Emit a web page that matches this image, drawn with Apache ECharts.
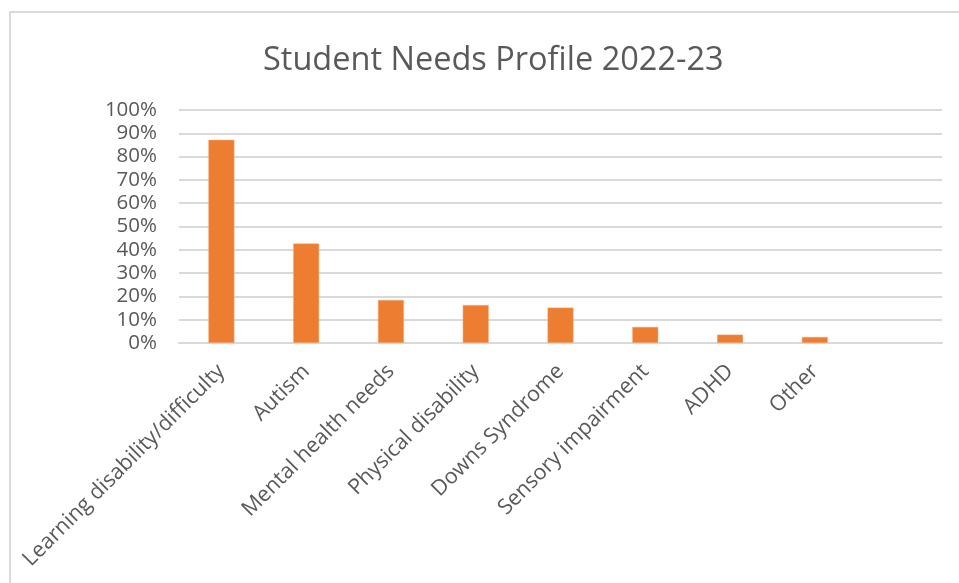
<!DOCTYPE html>
<html>
<head>
<meta charset="utf-8">
<script src="https://cdn.jsdelivr.net/npm/echarts@6/dist/echarts.min.js"></script>
<style>
html,body{margin:0;padding:0;background:#fff;}
#c{width:959px;height:583px;}
</style>
</head>
<body>
<div id="c"></div>
<script>
const categories = ['Learning disability/difficulty','Autism','Mental health needs','Physical disability','Downs Syndrome','Sensory impairment','ADHD','Other',''];
const values = [87.2, 42.7, 18.5, 16.3, 15.2, 6.9, 3.6, 2.6, null];
const yTicks = [0,10,20,30,40,50,60,70,80,90,100];

const chart = echarts.init(document.getElementById('c'), null, {renderer:'canvas'});
const font = '"Open Sans", "Noto Sans", sans-serif';
chart.setOption({
  animation:false,
  backgroundColor:'#fff',
  graphic:[{type:'rect', shape:{x:10,y:12,width:1000,height:700}, style:{fill:'none', stroke:'#d9d9d9', lineWidth:2}, silent:true}],
  title:{text:'Student Needs Profile 2022-23', left:258, top:39,
    textStyle:{fontFamily:font, fontSize:32.5, fontWeight:'normal', color:'#595959'}},
  grid:{left:179, right:17, top:110, bottom:240, containLabel:false},
  xAxis:{type:'category', data:categories,
    axisLine:{lineStyle:{color:'#d9d9d9', width:2}},
    axisTick:{show:false},
    axisLabel:{rotate:45, interval:0, fontFamily:font, fontSize:21.5, color:'#595959', margin:25}},
  yAxis:{type:'value', min:yTicks[0], max:yTicks[yTicks.length-1], interval:10,
    axisLine:{show:false}, axisTick:{show:false},
    splitLine:{lineStyle:{color:'#d9d9d9', width:2}},
    axisLabel:{formatter:'{value}%', fontFamily:font, fontSize:20.5, color:'#595959', margin:22}},
  series:[{type:'bar', data:values, barWidth:26,
    itemStyle:{color:'#ed7d31', borderColor:'#f4b183', borderWidth:0.5}}]
});
</script>
</body>
</html>
